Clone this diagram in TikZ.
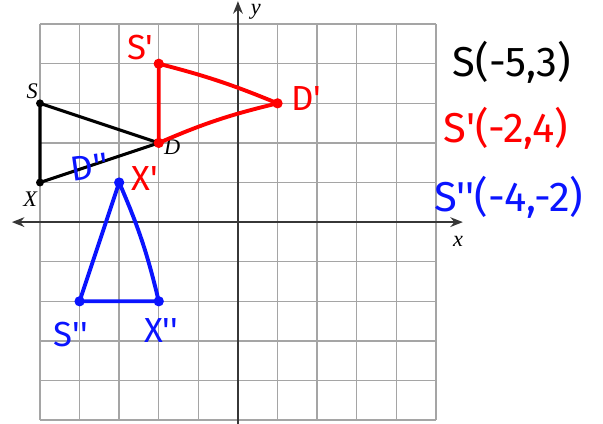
\documentclass[tikz,border=0pt]{standalone}
\usepackage{fontspec}
\usetikzlibrary{positioning,arrows.meta}
\newfontfamily\handfont{Fira Sans}[Ligatures=TeXOff]
\newfontfamily\axisfont{Liberation Serif}
\definecolor{GridGray}{RGB}{165,165,165}
\definecolor{AxisGray}{RGB}{55,55,55}
\definecolor{PenRed}{RGB}{255,0,0}
\definecolor{PenBlue}{RGB}{10,20,255}

\begin{document}
\begin{tikzpicture}[x=1cm,y=1cm,
    pen/.style={line width=2.8pt,line cap=round,line join=round},
    hand/.style={font=\handfont\fontsize{25}{25}\selectfont,inner sep=0pt},
    bighand/.style={font=\handfont\fontsize{30}{30}\selectfont,inner sep=0pt},
    lbl/.style={font=\axisfont\fontsize{16}{16}\selectfont\itshape,inner sep=0pt}]
        \useasboundingbox (-6.01,-5.08) rectangle (9.22,5.61);
        \draw[GridGray,line width=1pt] (-5,-5) grid (5,5);
        \draw[AxisGray,line width=1.3pt,{Stealth[length=9pt,width=7pt]}-{Stealth[length=9pt,width=7pt]}] (-5.71,0) -- (5.68,0);
        \draw[AxisGray,line width=1.3pt,-{Stealth[length=9pt,width=7pt]}] (0,-5.3) -- (0,5.58);
        \node[lbl] (xlab) at (5.56,-0.48) {x};
        \node[lbl] (ylab) at (0.45,5.3) {y};
        % original triangle
        \coordinate (S) at (-5,3);
        \coordinate (D) at (-2,2);
        \coordinate (X) at (-5,1);
        \draw[line width=2.2pt,line join=round] (S) -- (D) -- (X) -- cycle;
        \foreach \p in {S,D,X} {
          \fill (\p) circle (0.1);
        }
        \node[lbl] (lblS) at (-5.2,3.3) {S};
        \node[lbl] (lblX) at (-5.25,0.58) {X};
        \node[lbl] (lblD) at (-1.66,1.9) {D};
        % first image
        \coordinate (S1) at (-2,4);
        \coordinate (D1) at (1,3);
        \draw[pen,PenRed] (S1) to[bend left=4] (D1) to[bend right=5] (D) -- cycle;
        \foreach \p in {S1,D1,D} {
          \fill[PenRed] (\p) circle (0.13);
        }
        \node[hand,PenRed] (lblSa) at (-2.47,4.42) {S'};
        \node[hand,PenRed] (lblDa) at (1.72,3.13) {D'};
        \node[hand,PenRed] (lblXa) at (-2.35,1.11) {X'};
        % second image
        \coordinate (D2) at (-3,1);
        \coordinate (S2) at (-4,-2);
        \coordinate (X2) at (-2,-2);
        \draw[pen,PenBlue] (D2) -- (S2) -- (X2) to[bend right=5] (D2);
        \foreach \p in {D2,S2,X2} {
          \fill[PenBlue] (\p) circle (0.13);
        }
        \node[hand,PenBlue,rotate=8] (lblDb) at (-3.74,1.39) {D''};
        \node[hand,PenBlue] (lblSb) at (-4.22,-2.83) {S''};
        \node[hand,PenBlue] (lblXb) at (-1.94,-2.75) {X''};
        % coordinates
        \node[bighand] (ptS) at (6.92,4.04) {S(-5,3)};
        \node[bighand,PenRed] (ptSa) at (6.77,2.37) {S'(-2,4)};
        \node[bighand,PenBlue] (ptSb) at (6.84,0.63) {S''(-4,-2)};
\end{tikzpicture}
\end{document}
